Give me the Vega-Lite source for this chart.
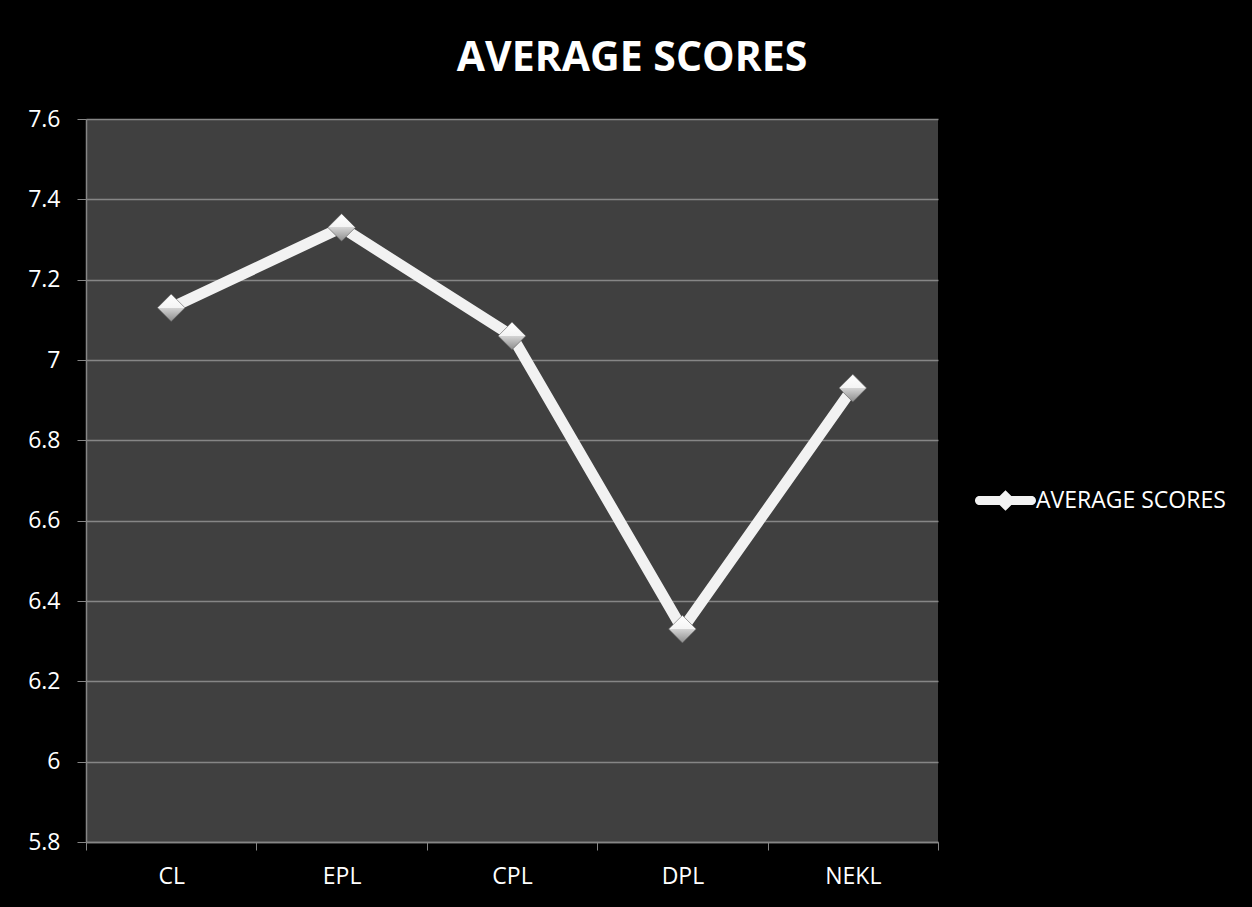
{
  "$schema": "https://vega.github.io/schema/vega-lite/v6.json",
  "width": 852,
  "height": 723,
  "autosize": {"type": "none"},
  "padding": {"left": 86, "top": 119, "right": 314, "bottom": 65},
  "background": "#000000",
  "config": {
    "view": {"fill": "#404040", "stroke": null},
    "font": "Open Sans"
  },
  "title": {
    "text": "AVERAGE SCORES",
    "fontSize": 41,
    "fontWeight": "bold",
    "color": "#ffffff",
    "font": "Open Sans",
    "anchor": "middle",
    "dx": 120,
    "offset": 28
  },
  "data": {
    "values": [
      {"league": "CL", "score": 7.13, "series": "AVERAGE SCORES"},
      {"league": "EPL", "score": 7.33, "series": "AVERAGE SCORES"},
      {"league": "CPL", "score": 7.06, "series": "AVERAGE SCORES"},
      {"league": "DPL", "score": 6.33, "series": "AVERAGE SCORES"},
      {"league": "NEKL", "score": 6.93, "series": "AVERAGE SCORES"}
    ]
  },
  "encoding": {
    "x": {
      "field": "league",
      "type": "nominal",
      "sort": null,
      "scale": {"type": "band", "paddingInner": 0, "paddingOuter": 0},
      "axis": {
        "title": null,
        "labelAngle": 0,
        "tickBand": "extent",
        "grid": false,
        "labelFontSize": 23,
        "labelColor": "#ffffff",
        "labelPadding": 15,
        "tickSize": 8,
        "tickColor": "#868686",
        "domainColor": "#868686",
        "domainWidth": 1.5
      }
    },
    "y": {
      "field": "score",
      "type": "quantitative",
      "scale": {"domain": [5.8, 7.6], "nice": false, "zero": false},
      "axis": {
        "title": null,
        "values": [5.8, 6, 6.2, 6.4, 6.6, 6.8, 7, 7.2, 7.4, 7.6],
        "format": "~g",
        "grid": true,
        "gridColor": "#868686",
        "gridWidth": 1.5,
        "labelFontSize": 23,
        "labelColor": "#ffffff",
        "labelPadding": 17,
        "tickSize": 9,
        "tickColor": "#868686",
        "domainColor": "#868686",
        "domainWidth": 1.5
      }
    }
  },
  "layer": [
    {
      "mark": {"type": "line", "strokeWidth": 11, "strokeJoin": "round"},
      "encoding": {
        "color": {
          "field": "series",
          "type": "nominal",
          "scale": {"range": ["#f2f2f2"]},
          "legend": {
            "orient": "none",
            "legendX": 889,
            "legendY": 351,
            "title": null,
            "symbolType": "M-0.85,-0.15L0.85,-0.15A0.15,0.15 0 0 1 0.85,0.15L-0.85,0.15A0.15,0.15 0 0 1 -0.85,-0.15ZM0,-0.34L0.34,0L0,0.34L-0.34,0Z",
            "symbolSize": 3721,
            "labelFontSize": 23,
            "labelLimit": 400,
            "labelColor": "#ffffff",
            "labelOffset": 0,
            "encode": {
              "symbols": {
                "update": {
                  "fill": {"value": "#f2f2f2"},
                  "stroke": {"value": "transparent"},
                  "strokeWidth": {"value": 0},
                  "opacity": {"value": 1}
                }
              }
            }
          }
        }
      }
    },
    {
      "mark": {
        "type": "point",
        "shape": "diamond",
        "size": 760,
        "filled": true,
        "opacity": 1,
        "fill": {
          "gradient": "linear",
          "x1": 0, "y1": 0, "x2": 0, "y2": 1,
          "stops": [
            {"offset": 0, "color": "#ffffff"},
            {"offset": 0.5, "color": "#f4f4f4"},
            {"offset": 0.5, "color": "#d4d4d4"},
            {"offset": 1, "color": "#8c8c8c"}
          ]
        },
        "stroke": "#5a5a5a",
        "strokeWidth": 0.6
      }
    }
  ]
}
